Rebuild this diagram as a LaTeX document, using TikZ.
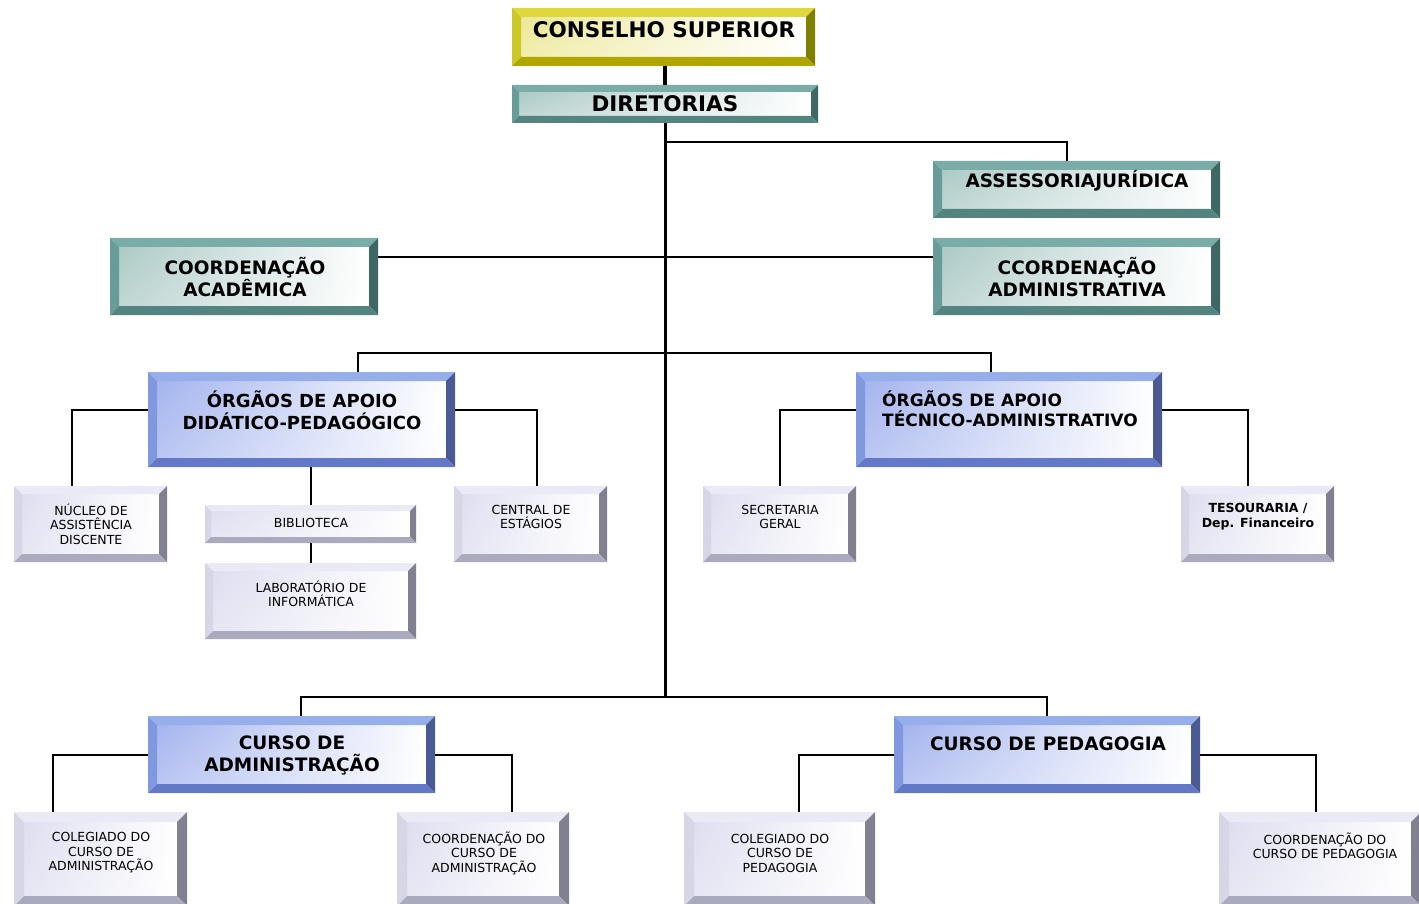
\documentclass[tikz,border=0pt]{standalone}
\usepackage{fontspec}
\setmainfont{DejaVu Sans}
\usetikzlibrary{fit,shadings}
\definecolor{tealT}{RGB}{122,172,168}
\definecolor{tealL}{RGB}{104,156,152}
\definecolor{tealR}{RGB}{62,104,100}
\definecolor{tealB}{RGB}{84,132,128}
\definecolor{tealI}{RGB}{172,202,198}
\definecolor{yelT}{RGB}{222,216,60}
\definecolor{yelL}{RGB}{204,200,40}
\definecolor{yelR}{RGB}{128,128,0}
\definecolor{yelB}{RGB}{176,166,0}
\definecolor{yelI}{RGB}{236,232,150}
\definecolor{bluT}{RGB}{150,174,234}
\definecolor{bluL}{RGB}{128,152,224}
\definecolor{bluR}{RGB}{74,90,148}
\definecolor{bluB}{RGB}{100,120,200}
\definecolor{bluI}{RGB}{164,180,238}
\definecolor{gryT}{RGB}{234,234,246}
\definecolor{gryL}{RGB}{214,214,230}
\definecolor{gryR}{RGB}{128,128,144}
\definecolor{gryB}{RGB}{170,170,190}
\definecolor{gryI}{RGB}{222,222,240}
\tikzset{
  bw/.store in=\bw, bw=9pt,
  bevbox/.style n args={5}{inner sep=0pt, outer sep=0pt, draw=none, path picture={
    \coordinate (NW) at (path picture bounding box.north west);
    \coordinate (NE) at (path picture bounding box.north east);
    \coordinate (SW) at (path picture bounding box.south west);
    \coordinate (SE) at (path picture bounding box.south east);
    \coordinate (nw) at ([xshift=\bw,yshift=-\bw]NW);
    \coordinate (ne) at ([xshift=-\bw,yshift=-\bw]NE);
    \coordinate (sw) at ([xshift=\bw,yshift=\bw]SW);
    \coordinate (se) at ([xshift=-\bw,yshift=\bw]SE);
    \shade[upper left=#5, lower left=#5!75!white, upper right=white, lower right=white] (nw) rectangle (se);
    \fill[#1] (NW)--(NE)--(ne)--(nw)--cycle;
    \fill[#2] (NW)--(nw)--(sw)--(SW)--cycle;
    \fill[#3] (NE)--(SE)--(se)--(ne)--cycle;
    \fill[#4] (SW)--(sw)--(se)--(SE)--cycle;
  }},
  yelbox/.style={bevbox={yelT}{yelL}{yelR}{yelB}{yelI}},
  tealbox/.style={bevbox={tealT}{tealL}{tealR}{tealB}{tealI}},
  blubox/.style={bevbox={bluT}{bluL}{bluR}{bluB}{bluI}},
  grybox/.style={bevbox={gryT}{gryL}{gryR}{gryB}{gryI}, bw=8pt},
  hd/.style={font=\bfseries\fontsize{18.5}{22}\selectfont, align=center, inner sep=0pt},
  hdbig/.style={font=\bfseries\fontsize{21.5}{24}\selectfont, align=center, inner sep=0pt},
  sm/.style={font=\fontsize{12.5}{14.5}\selectfont, align=center, inner sep=0pt},
  smb/.style={font=\bfseries\fontsize{12.5}{15}\selectfont, align=center, inner sep=0pt},
  conn/.style={draw=black, line width=2pt},
}
\begin{document}
\begin{tikzpicture}[x=1pt, y=-1pt]
\useasboundingbox (0,0) rectangle (1419,904);
\clip (0,0) rectangle (1419,904);
\fill[white] (0,0) rectangle (1419,904);
% boxes
\node[yelbox, fit={(512,8)(815,66)}] (cons) {};
\node[tealbox, bw=7pt, fit={(512,85)(818,123)}] (dir) {};
\node[tealbox, fit={(933,161)(1220,218)}] (ass) {};
\node[tealbox, fit={(110,238)(378,315)}] (acad) {};
\node[tealbox, fit={(933,238)(1220,315)}] (cadm) {};
\node[blubox, fit={(148,372)(455,467)}] (did) {};
\node[blubox, fit={(856,372)(1162,467)}] (tec) {};
\node[grybox, fit={(14,486)(167,562)}] (nuc) {};
\node[grybox, bw=6pt, fit={(205,505)(416,543)}] (bib) {};
\node[grybox, fit={(205,563)(416,639)}] (lab) {};
\node[grybox, fit={(454,486)(607,562)}] (cen) {};
\node[grybox, fit={(703,486)(856,562)}] (sec) {};
\node[grybox, fit={(1181,486)(1334,562)}] (tes) {};
\node[blubox, fit={(148,716)(435,793)}] (cura) {};
\node[blubox, fit={(894,716)(1200,793)}] (curp) {};
\node[grybox, bw=10pt, fit={(14,812)(187,906)}] (cola) {};
\node[grybox, bw=10pt, fit={(397,812)(569,906)}] (coora) {};
\node[grybox, bw=10pt, fit={(684,812)(875,906)}] (colp) {};
\node[grybox, bw=10pt, fit={(1219,812)(1421,906)}] (coorp) {};
% texts
\node[hdbig] (consT) at (664,30) {CONSELHO SUPERIOR};
\node[hdbig] (dirT) at (665,104) {DIRETORIAS};
\node[hd] (assT) at (1077,181) {ASSESSORIAJURÍDICA};
\node[hd] (acadT) at (245,277) {COORDENAÇÃO\\ACADÊMICA};
\node[hd] (cadmT) at (1077,277) {CCORDENAÇÃO\\ADMINISTRATIVA};
\node[hd, font=\bfseries\fontsize{18}{21.5}\selectfont] (didT) at (302,410) {ÓRGÃOS DE APOIO\\DIDÁTICO-PEDAGÓGICO};
\node[hd, align=left, anchor=west, font=\bfseries\fontsize{17}{20}\selectfont] (tecT) at (882,409) {ÓRGÃOS DE APOIO\\TÉCNICO-ADMINISTRATIVO};
\node[sm] (nucT) at (91,524) {NÚCLEO DE\\ASSISTÊNCIA\\DISCENTE};
\node[sm] (bibT) at (311,523) {BIBLIOTECA};
\node[sm] (labT) at (311,594) {LABORATÓRIO DE\\INFORMÁTICA};
\node[sm] (cenT) at (531,517) {CENTRAL DE\\ESTÁGIOS};
\node[sm] (secT) at (780,517) {SECRETARIA\\GERAL};
\node[smb] (tesT) at (1258,517) {TESOURARIA /\\Dep. Financeiro};
\node[hd] (curaT) at (292,755) {CURSO DE\\ADMINISTRAÇÃO};
\node[hd] (curpT) at (1048,744) {CURSO DE PEDAGOGIA};
\node[sm] (colaT) at (101,853) {COLEGIADO DO\\CURSO DE\\ADMINISTRAÇÃO};
\node[sm] (cooraT) at (484,853) {COORDENAÇÃO DO\\CURSO DE\\ADMINISTRAÇÃO};
\node[sm] (colpT) at (780,853) {COLEGIADO DO\\CURSO DE\\PEDAGOGIA};
\node[sm] (coorpT) at (1325,846) {COORDENAÇÃO DO\\CURSO DE PEDAGOGIA};
% connectors
\coordinate (jb) at (665,697);
\draw[line width=4pt] (dir.north |- cons.south) -- (dir.north);
\draw[line width=3pt] (dir.south) -- (jb);
\draw[conn] (dir.south |- 0,142) -| ([xshift=-9.5pt]ass.north);
\draw[conn] (acad.east |- 0,257) -- (cadm.west |- 0,257);
\draw[conn] ([xshift=56.5pt]did.north) -- ++(0,-19) -| ([xshift=-18pt]tec.north);
\draw[conn] ([yshift=10pt]did.west) -| ([xshift=-18.5pt]nuc.north);
\draw[conn] ([yshift=10pt]did.east) -| ([xshift=6.5pt]cen.north);
\draw[conn] (bib.north |- did.south) -- (bib.north);
\draw[conn] (bib.south) -- (lab.north);
\draw[conn] ([yshift=9.5pt]tec.west) -| (sec.north);
\draw[conn] ([yshift=9.5pt]tec.east) -| ([xshift=-9.5pt]tes.north);
\draw[conn] ([xshift=9.5pt]cura.north) -- ++(0,-19) -| (curp.north);
\draw[conn] (cura.west) -| ([xshift=-47.5pt]cola.north);
\draw[conn] (cura.east) -| ([xshift=29pt]coora.north);
\draw[conn] (curp.west) -| ([xshift=19.5pt]colp.north);
\draw[conn] (curp.east) -| ([xshift=-4.5pt]coorp.north);
\end{tikzpicture}
\end{document}
